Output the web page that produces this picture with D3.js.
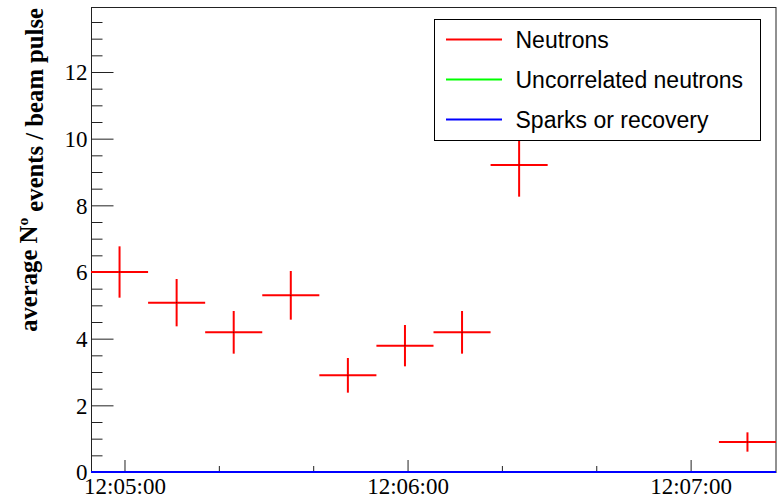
<!DOCTYPE html>
<html>
<head>
<meta charset="utf-8">
<script src="https://cdn.jsdelivr.net/npm/d3@7"></script>
<style>
  html, body { margin: 0; padding: 0; background: #fff; }
  svg { display: block; }
</style>
</head>
<body>
<svg id="chart" width="779" height="499"></svg>
<script>
// Histogram bins (edges as clock times, 12.1 s wide)
const binEdges = ["12:04:52.9", "12:05:05.0", "12:05:17.1", "12:05:29.2", "12:05:41.3",
                  "12:05:53.4", "12:06:05.5", "12:06:17.6", "12:06:29.7", "12:06:41.8",
                  "12:06:53.9", "12:07:06.0", "12:07:18.1"];
// Average number of events per beam pulse, with errors
const neutrons      = [6.00, 5.08, 4.19, 5.30, 2.90, 3.79, 4.19, 9.21, 0, 0, 0, 0.90];
const neutronErrors = [0.77, 0.71, 0.64, 0.73, 0.52, 0.62, 0.64, 0.95, 0, 0, 0, 0.29];
const uncorrelated  = [0, 0, 0, 0, 0, 0, 0, 0, 0, 0, 0, 0];
const sparks        = [0, 0, 0, 0, 0, 0, 0, 0, 0, 0, 0, 0];
const yMajorTicks = [0, 2, 4, 6, 8, 10, 12];
const xMajorTicks = ["12:05:00", "12:06:00", "12:07:00"];
const yMax = 13.95;
const legendItems = [
  { label: "Neutrons", color: "#ff0000" },
  { label: "Uncorrelated neutrons", color: "#00ff00" },
  { label: "Sparks or recovery", color: "#0000ff" }
];

const parseClock = s => {
  const [h, m, sec] = s.split(":").map(Number);
  return new Date(2000, 0, 1, h, m, 0, Math.round(sec * 1000));
};
const edges = binEdges.map(parseClock);

const svg = d3.select("#chart");
const frame = { left: 91, right: 776, top: 7, bottom: 472 };

const x = d3.scaleTime().domain([edges[0], edges[edges.length - 1]]).range([frame.left, frame.right]);
const y = d3.scaleLinear().domain([0, yMax]).range([frame.bottom, frame.top]);

const serif = "'Liberation Serif', 'Times New Roman', serif";
const sans = "'Liberation Sans', Arial, Helvetica, sans-serif";

// Frame
svg.append("rect")
  .attr("x", frame.left + 0.5).attr("y", frame.top + 0.5)
  .attr("width", frame.right - frame.left - 0.5).attr("height", frame.bottom - frame.top)
  .attr("fill", "none").attr("stroke", "#222").attr("stroke-width", 1);

// Y axis: major ticks with labels, minor ticks every 0.5
const yMinor = d3.range(0, yMax, 0.5).filter(v => !yMajorTicks.includes(v));
const yAxisMajor = d3.axisLeft(y).tickValues(yMajorTicks).tickSize(-22).tickPadding(4).tickFormat(d3.format("d"));
const yAxisMinor = d3.axisLeft(y).tickValues(yMinor).tickSize(-11).tickFormat("");
const gy = svg.append("g").attr("transform", `translate(${frame.left + 0.5},0)`);
gy.call(yAxisMajor);
gy.append("g").call(yAxisMinor);
gy.selectAll(".domain").remove();
gy.selectAll("line").attr("stroke", "#222");
gy.selectAll("text")
  .attr("font-family", serif).attr("font-size", 23).attr("fill", "#000")
  .attr("dy", "0.34em");

// X axis: major ticks each minute, minor ticks every 20 s
const xMajor = xMajorTicks.map(parseClock);
const xMinor = d3.timeSecond.every(20).range(edges[0], edges[edges.length - 1])
  .filter(d => d.getSeconds() !== 0);
const xAxisMajor = d3.axisBottom(x).tickValues(xMajor).tickSize(-12).tickPadding(6)
  .tickFormat(d3.timeFormat("%H:%M:%S"));
const xAxisMinor = d3.axisBottom(x).tickValues(xMinor).tickSize(-6).tickFormat("");
const gx = svg.append("g").attr("transform", `translate(0,${frame.bottom})`);
gx.call(xAxisMajor);
gx.append("g").call(xAxisMinor);
gx.selectAll(".domain").remove();
gx.selectAll("line").attr("stroke", "#222");
gx.selectAll("text")
  .attr("font-family", serif).attr("font-size", 23).attr("fill", "#000");

// Y axis title
const title = svg.append("text")
  .attr("transform", "rotate(-90)")
  .attr("x", -8).attr("y", 37)
  .attr("text-anchor", "end")
  .attr("font-family", serif).attr("font-weight", "bold").attr("font-size", 24.7)
  .attr("fill", "#000");
title.append("tspan").text("average N");
title.append("tspan").attr("font-size", 15.5).attr("dy", "-0.6em").text("o");
title.append("tspan").attr("dy", "0.6em").text(" events / beam pulse");

// Flat series along zero (drawn as step histograms)
function drawFlat(values, color) {
  const pts = [];
  values.forEach((v, i) => {
    pts.push([x(edges[i]), y(v)]);
    pts.push([x(edges[i + 1]), y(v)]);
  });
  svg.append("path")
    .attr("d", d3.line()(pts))
    .attr("fill", "none").attr("stroke", color).attr("stroke-width", 2);
}
drawFlat(uncorrelated, "#00ff00");
drawFlat(sparks, "#0000ff");

// Neutron histogram drawn with error crosses
const bins = neutrons.map((v, i) => ({
  v, e: neutronErrors[i], x0: edges[i], x1: edges[i + 1],
  xc: new Date((edges[i].getTime() + edges[i + 1].getTime()) / 2)
})).filter(d => d.v > 0);

const gn = svg.append("g").attr("stroke", "#ff0000").attr("stroke-width", 2);
gn.selectAll("line.h").data(bins).join("line").attr("class", "h")
  .attr("x1", d => x(d.x0)).attr("x2", d => x(d.x1))
  .attr("y1", d => y(d.v)).attr("y2", d => y(d.v));
gn.selectAll("line.v").data(bins).join("line").attr("class", "v")
  .attr("x1", d => x(d.xc)).attr("x2", d => x(d.xc))
  .attr("y1", d => y(d.v - d.e)).attr("y2", d => y(d.v + d.e));
svg.append("g").selectAll("rect").data(bins).join("rect")
  .attr("x", d => x(d.xc) - 0.5).attr("y", d => y(d.v) - 0.5)
  .attr("width", 1).attr("height", 1).attr("fill", "#400");

// Legend
const legend = { x: 434.5, y: 19.5, w: 326, h: 121 };
const gl = svg.append("g");
gl.append("rect")
  .attr("x", legend.x).attr("y", legend.y).attr("width", legend.w).attr("height", legend.h)
  .attr("fill", "#fff").attr("stroke", "#000").attr("stroke-width", 1);
const rows = gl.selectAll("g.row").data(legendItems).join("g").attr("class", "row")
  .attr("transform", (d, i) => `translate(0,${39.5 + i * 40})`);
rows.append("line")
  .attr("x1", 446).attr("x2", 502)
  .attr("stroke", d => d.color).attr("stroke-width", 2);
rows.append("text")
  .attr("x", 515.5).attr("y", 8)
  .attr("font-family", sans).attr("font-size", 23).attr("fill", "#000")
  .text(d => d.label);
</script>
</body>
</html>
